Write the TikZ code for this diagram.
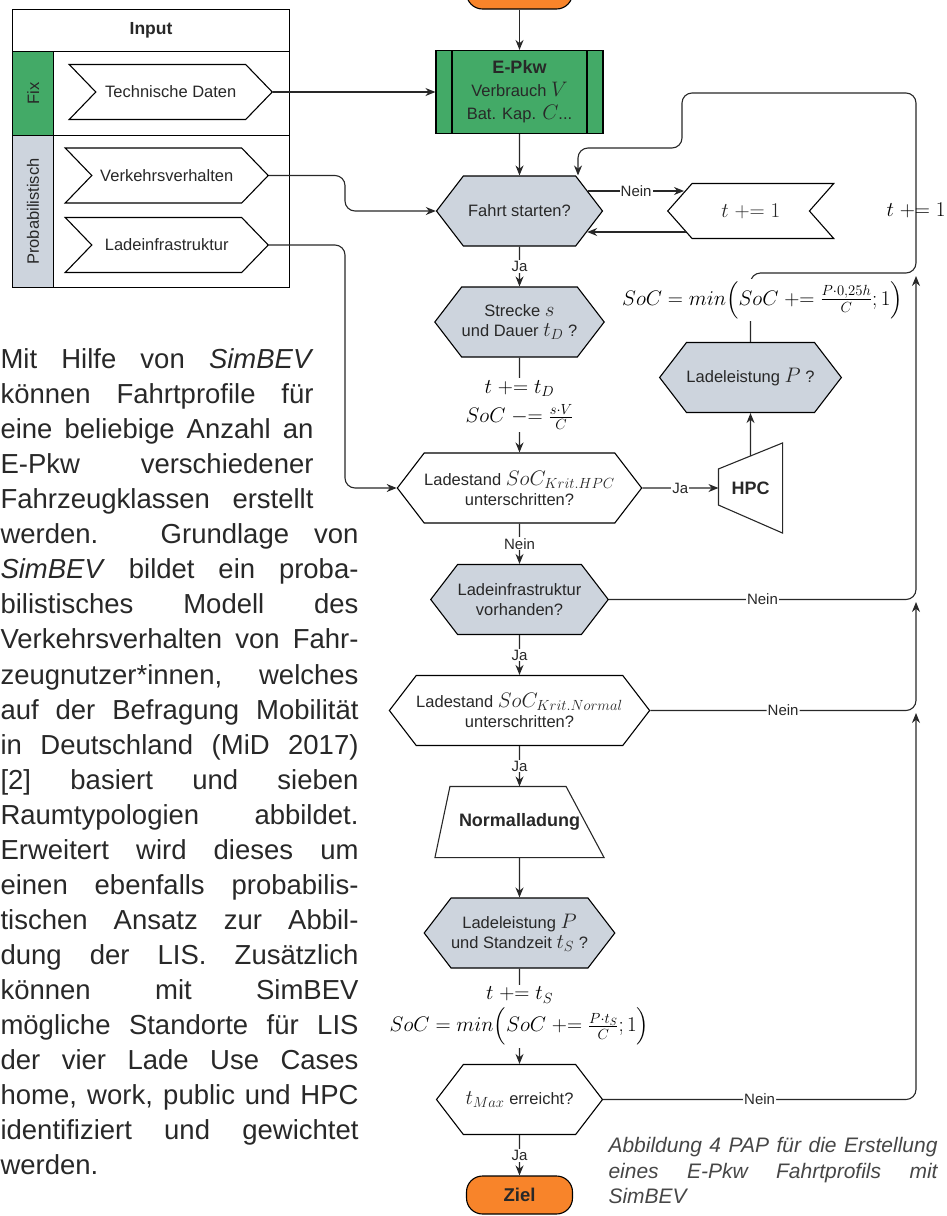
\documentclass[tikz,border=0pt]{standalone}
\usepackage{fix-cm}
\usepackage{amsmath}
\usepackage[no-math]{fontspec}
\setmainfont{Liberation Sans}
\usepackage{xcolor}
\usepackage{tikz}
\usetikzlibrary{positioning,shapes.symbols,arrows.meta,calc}

\definecolor{fixgreen}{RGB}{67,170,103}
\definecolor{askgray}{RGB}{205,212,221}
\definecolor{goalorange}{RGB}{248,132,42}
\definecolor{ink}{RGB}{40,40,40}
\definecolor{capgray}{RGB}{70,70,70}

% math a bit larger than the box text
\newcommand\mx[1]{{\fontsize{21}{21}\selectfont$#1$}}
% one justified line of fixed width
\newcommand\jline[2]{\makebox[#1][s]{#2}}

\begin{document}
\begin{tikzpicture}[
    x=1pt, y=-1pt,
    line width=1.1pt,
    >={Stealth[length=10pt,width=8pt]},
    flow/.style={align=center, inner sep=0pt, text=ink,
        font=\fontsize{16.5}{20}\selectfont},
    cell/.style={draw, rectangle, anchor=north west, inner sep=0pt, text=ink,
        font=\fontsize{16.5}{20}\selectfont},
    chevron/.style={flow, draw, shape=signal, signal from=west, signal to=east,
        signal pointer angle=92, minimum width=203pt, minimum height=55pt, anchor=east},
    askbox/.style={flow, draw, shape=signal, signal to=east and west,
        signal pointer angle=105, minimum height=70pt},
    askgrey/.style={askbox, fill=askgray},
    procbox/.style={flow, draw, fill=fixgreen, minimum width=167pt, minimum height=83pt,
        font=\fontsize{16.5}{23}\selectfont,
        path picture={
            \draw ([xshift=16pt]path picture bounding box.north west) -- ([xshift=16pt]path picture bounding box.south west);
            \draw ([xshift=-16pt]path picture bounding box.north east) -- ([xshift=-16pt]path picture bounding box.south east);
        }},
    plainbox/.style={flow, font=\fontsize{18}{20}\selectfont\bfseries},
    terminal/.style={flow, draw, fill=goalorange, rounded corners=16pt,
        minimum width=106pt, minimum height=38pt, font=\fontsize{18.5}{20}\selectfont\bfseries},
    lbl/.style={fill=white, inner sep=1pt, text=ink, font=\fontsize{15}{17}\selectfont},
    formula/.style={fill=white, inner sep=2pt, align=center, font=\fontsize{21}{29}\selectfont},
    arr/.style={->, draw=ink},
    backarr/.style={->, draw=ink, rounded corners=10pt}
]
\useasboundingbox (0,0) rectangle (947,1216);
\clip (0,0) rectangle (947,1216);

% input table
\node[cell, minimum width=277pt, minimum height=42pt, font=\fontsize{17.5}{20}\selectfont\bfseries] (inhead) at (12,9) {Input};
\node[cell, fill=fixgreen, minimum width=41pt, minimum height=84pt] (fixcol) at (12,51) {\rotatebox{90}{Fix}};
\node[cell, minimum width=236pt, minimum height=84pt] (fixrow) at (53,51) {};
\node[cell, fill=askgray, minimum width=41pt, minimum height=152pt] (probcol) at (12,135) {\rotatebox{90}{Probabilistisch}};
\node[cell, minimum width=236pt, minimum height=152pt] (probrow) at (53,135) {};

\node[chevron] (tech) at (273,92) {Technische Daten};
\node[chevron] (verk) at (269,175.5) {Verkehrsverhalten};
\node[chevron] (ladeinf) at (269,245) {Ladeinfrastruktur};

% main column
\node[terminal] (start) at (519.5,-10) {};
\node[procbox] (epkw) at (519.5,92) {{\fontsize{18}{22}\selectfont\bfseries E-Pkw}\\Verbrauch \mx{V}\\Bat. Kap. \mx{C}...};
\node[askgrey, minimum width=166pt] (fahrt) at (519.5,211) {Fahrt starten?};
\node[askbox, signal to=west, signal from=east, signal pointer angle=97,
    minimum width=166pt, minimum height=55pt, anchor=west] (tick) at (667,211) {\mx{t \mathrel{+}= 1}};
\node[askgrey, minimum width=167pt] (strecke) at (519.5,322) {Strecke \mx{s}\\und Dauer \mx{t_D} ?};
\node[askbox, minimum width=236pt] (hpcq) at (519.5,488) {Ladestand \mx{SoC_{Krit.HPC}}\\unterschritten?};
\node[plainbox, minimum width=63pt, minimum height=89pt] (hpc) at (750.5,488) {HPC};
\node[askgrey, minimum width=167pt] (ladep) at (750.5,377.5) {Ladeleistung \mx{P} ?};
\node[askgrey, minimum width=167pt] (infra) at (519.5,599.5) {Ladeinfrastruktur\\vorhanden?};
\node[askbox, minimum width=238pt] (normq) at (519.5,710.5) {Ladestand \mx{SoC_{Krit.Normal}}\\unterschritten?};
\node[plainbox, minimum width=168pt, minimum height=70pt] (normal) at (519.5,822) {Normalladung};
\node[askgrey, minimum width=167pt] (standq) at (519.5,933) {Ladeleistung \mx{P}\\und Standzeit \mx{t_S} ?};
\node[askbox, minimum width=166pt] (tmaxq) at (519.5,1099.5) {\mx{t_{Max}} erreicht?};
\node[terminal] (ziel) at (519.5,1195) {Ziel};

% trapezoid outlines
\draw[draw=ink] ([yshift=-26pt]hpc.north west) -- (hpc.north east) -- (hpc.south east) -- ([yshift=28pt]hpc.south west) -- cycle;
\draw[draw=ink] (normal.south west) -- ([xshift=15pt]normal.north west) -- ([xshift=-38pt]normal.north east) -- (normal.south east) -- cycle;

% connectors
\draw[arr] (start) -- (epkw);
\draw[arr] (tech.east) -- (epkw.west);
\draw[arr] (epkw) -- (fahrt);
\draw[backarr] (verk.east) -- ++(76,0) |- (fahrt.west);
\draw[backarr] (ladeinf.east) -- ++(76,0) |- (hpcq.west);

\draw[arr] ([xshift=-15pt,yshift=20pt]fahrt.east) -- node[lbl]{Nein} ([xshift=17pt,yshift=20pt]tick.west);
\draw[arr] ([xshift=18.5pt,yshift=-21pt]tick.west) -- ([xshift=-16pt,yshift=-21pt]fahrt.east);

\draw[arr] (fahrt) -- node[lbl]{Ja} (strecke);
\draw[arr] (strecke) -- node[formula]{$t \mathrel{+}= t_D$\\$SoC \mathrel{-}= \frac{s\cdot V}{C}$} (hpcq);
\draw[arr] (hpcq) -- node[lbl]{Ja} (hpc);
\draw[arr] ([yshift=-13pt]hpc.north) -- (ladep);
\draw[backarr] (ladep.north) -- node[formula, pos=0.61, xshift=12pt]{$SoC = min\Bigl(SoC \mathrel{+}= \frac{P\cdot 0{,}25h}{C};1\Bigr)$} (ladep.north |- 0,273)
    -- (916,273) -- node[pos=0.35, font=\fontsize{21}{21}\selectfont]{$t \mathrel{+}= 1$} (916,93)
    -- (682,93) -- (682,148) -- (578,148) -- ([xshift=58.5pt]fahrt.north);

\draw[arr] (hpcq) -- node[lbl]{Nein} (infra);
\draw[backarr] (infra.east) -- node[lbl]{Nein} (infra.east -| 916,0) -- (916,276);
\draw[arr] (infra) -- node[lbl]{Ja} (normq);
\draw[backarr] (normq.east) -- node[lbl]{Nein} (normq.east -| 916,0) -- (916,602);
\draw[arr] (normq) -- node[lbl]{Ja} (normal);
\draw[arr] (normal) -- (standq);
\draw[arr] (standq) -- node[formula]{$t \mathrel{+}= t_S$\\[3pt]$SoC = min\Bigl(SoC \mathrel{+}= \frac{P\cdot t_S}{C};1\Bigr)$} (tmaxq);
\draw[backarr] (tmaxq.east) -- node[lbl]{Nein} (tmaxq.east -| 916,0) -- (916,713);
\draw[arr] (tmaxq) -- node[lbl]{Ja} (ziel);

% running text and caption
\node[anchor=north west, inner sep=0pt, align=left, text=ink,
    font=\fontsize{27.5}{35.06}\selectfont] (body) at (0,348) {%
\jline{313pt}{Mit Hilfe von \textit{SimBEV}}\\
\jline{313pt}{können Fahrtprofile für}\\
\jline{313pt}{eine beliebige Anzahl an}\\
\jline{313pt}{E-Pkw verschiedener}\\
\jline{313pt}{Fahrzeugklassen erstellt}\\
\jline{358pt}{werden. Grundlage von}\\
\jline{358pt}{\textit{SimBEV} bildet ein proba-}\\
\jline{358pt}{bilistisches Modell des}\\
\jline{358pt}{Verkehrsverhalten von Fahr-}\\
\jline{358pt}{zeugnutzer*innen, welches}\\
\jline{358pt}{auf der Befragung Mobilität}\\
\jline{358pt}{in Deutschland (MiD 2017)}\\
\jline{358pt}{[2] basiert und sieben}\\
\jline{358pt}{Raumtypologien abbildet.}\\
\jline{358pt}{Erweitert wird dieses um}\\
\jline{358pt}{einen ebenfalls probabilis-}\\
\jline{358pt}{tischen Ansatz zur Abbil-}\\
\jline{358pt}{dung der LIS. Zusätzlich}\\
\jline{358pt}{können mit SimBEV}\\
\jline{358pt}{mögliche Standorte für LIS}\\
\jline{358pt}{der vier Lade Use Cases}\\
\jline{358pt}{home, work, public und HPC}\\
\jline{358pt}{identifiziert und gewichtet}\\
werden.};

\node[anchor=north west, inner sep=0pt, align=left, text=capgray,
    font=\fontsize{21}{25.3}\selectfont\itshape] (caption) at (608,1137) {%
\jline{329pt}{Abbildung 4 PAP für die Erstellung}\\
\jline{329pt}{eines E-Pkw Fahrtprofils mit}\\
SimBEV};

\end{tikzpicture}
\end{document}
